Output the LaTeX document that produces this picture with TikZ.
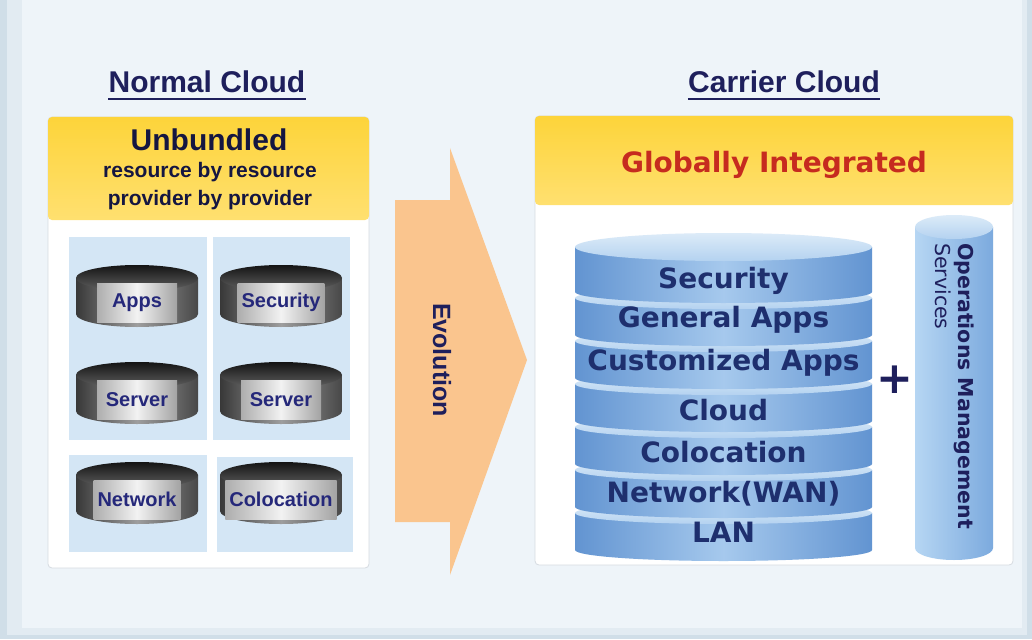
\documentclass[tikz,border=0pt]{standalone}
\usepackage{fontspec}
\setmainfont{Liberation Sans}
\newfontfamily\dejavu{DejaVu Sans}
\usetikzlibrary{positioning}

\definecolor{navy}{HTML}{1E1F5C}
\definecolor{labelnavy}{HTML}{25287A}
\definecolor{stacktext}{HTML}{1E2F6E}
\definecolor{frameblue}{HTML}{D0DEE8}
\definecolor{rimblue}{HTML}{E2EBF2}
\definecolor{paleblue}{HTML}{EEF4F9}
\definecolor{panelgray}{HTML}{D6DBE1}
\definecolor{blockblue}{HTML}{D4E6F5}
\definecolor{peach}{HTML}{FAC58E}
\definecolor{redtext}{HTML}{C62B1F}
\definecolor{headtop}{HTML}{FDD43A}
\definecolor{headbottom}{HTML}{FFE070}
\definecolor{layerside}{HTML}{6294D1}
\definecolor{layermid}{HTML}{A6C9ED}
\definecolor{facetop}{HTML}{DCEBF8}
\definecolor{facebottom}{HTML}{B4D2F0}
\definecolor{opsleft}{HTML}{B6D6F3}
\definecolor{opsmid}{HTML}{9CC4EC}
\definecolor{opsright}{HTML}{7CAADE}

\tikzset{
  title/.style={anchor=base, inner sep=0pt, text=navy, font=\bfseries\fontsize{30}{32}\selectfont},
  panel/.style={fill=white, draw=panelgray, line width=0.8pt, rounded corners=4pt},
  header/.style={top color=headtop, bottom color=headbottom, rounded corners=4pt},
  drumbody/.style={left color=black!78, right color=black!72, middle color=black!38},
  drumtop/.style={top color=black!92, bottom color=black!62},
  drumlabel/.style={left color=black!32, right color=black!36, middle color=black!5,
    minimum width=80pt, minimum height=39pt, inner sep=4pt, text=labelnavy,
    font=\bfseries\fontsize{20}{22}\selectfont},
  layerbody/.style={left color=layerside, right color=layerside, middle color=layermid},
  layertop/.style={top color=facetop, bottom color=facebottom},
  layertext/.style={anchor=base, inner sep=0pt, text=stacktext, font=\dejavu\bfseries\fontsize{28}{30}\selectfont},
}

\begin{document}
\begin{tikzpicture}[x=1pt, y=-1pt]
\useasboundingbox (0,0) rectangle (1032,639);

% backdrop frame
\fill[frameblue] (0,0) rectangle (1032,639);
\fill[rimblue] (7,-5) rectangle (1027,635);
\fill[paleblue] (22,-5) rectangle (1022,628);

% ---- normal cloud ----
\node[title] (normal) at (207,93) {Normal Cloud};
\draw[navy, line width=2.5pt] ([yshift=-6pt]normal.base west) -- ([yshift=-6pt]normal.base east);

\draw[panel] (48,117) rectangle (369,568);
\shade[header] (48,117) rectangle (369,220);
\node[anchor=base, inner sep=0pt, text=navy!70!black, font=\bfseries\fontsize{30}{32}\selectfont] (unbundled) at (209,151) {Unbundled};
\node[anchor=base, inner sep=0pt, text=navy!70!black, font=\bfseries\fontsize{21}{23}\selectfont] (byres) at (210,178) {resource by resource};
\node[anchor=base, inner sep=0pt, text=navy!70!black, font=\bfseries\fontsize{21}{23}\selectfont] (byprov) at (210,205) {provider by provider};

\fill[blockblue] (69,237) rectangle (207,440);
\fill[blockblue] (213,237) rectangle (350,440);
\fill[blockblue] (69,455) rectangle (207,552);
\fill[blockblue] (217,457) rectangle (353,552);

% separate resources
\foreach \cx/\ty/\lab/\nm in {137/265/Apps/apps, 281/265/Security/secu,
    137/362/Server/srva, 281/362/Server/srvb,
    137/462/Network/netw, 281/462/Colocation/colo}{
  \shade[drumbody] (\cx-61,\ty+13) -- (\cx-61,\ty+49)
    arc[start angle=180, end angle=0, x radius=61, y radius=13] -- (\cx+61,\ty+13) -- cycle;
  \shade[drumtop] (\cx,\ty+13) ellipse [x radius=61, y radius=13];
  \node[drumlabel] (\nm) at (\cx,\ty+37.5) {\lab};
}

% ---- evolution arrow ----
\fill[peach] (395,200) -- (450,200) -- (450,148) -- (527,360) -- (450,575)
  -- (450,522) -- (395,522) -- cycle;
\node[rotate=-90, text=navy, font=\bfseries\fontsize{25}{27}\selectfont] (evolution) at (442,360) {Evolution};

% ---- carrier cloud ----
\node[title] (carrier) at (784,93) {Carrier Cloud};
\draw[navy, line width=2.5pt] ([yshift=-6pt]carrier.base west) -- ([yshift=-6pt]carrier.base east);

\draw[panel] (535,116) rectangle (1013,565);
\shade[header] (535,116) rectangle (1013,205);
\node[anchor=base, inner sep=0pt, text=redtext, font=\dejavu\bfseries\fontsize{28}{30}\selectfont] (global) at (774,172) {Globally Integrated};

% stacked layers, bottom one first
\foreach \i in {6,5,...,0}{
  \pgfmathsetmacro\yb{292+43*\i}
  \pgfmathsetmacro\yt{ifthenelse(\i==0,247,\yb-37)}
  \pgfmathsetmacro\ry{ifthenelse(\i==0,14,11)}
  \shade[layerbody] (575,\yt) -- (575,\yb)
    arc[start angle=180, end angle=0, x radius=148.5, y radius=11] -- (872,\yt) -- cycle;
  \shade[layertop] (723.5,\yt) ellipse [x radius=148.5, y radius=\ry];
}
\foreach \by/\lab/\nm in {288/Security/lsec, 327/General Apps/lgen, 370/Customized Apps/lcust,
    420/Cloud/lcloud, 462/Colocation/lcolo, 502/Network(WAN)/lwan, 542/LAN/llan}
  \node[layertext] (\nm) at (723.5,\by) {\lab};

\node[text=navy, font=\dejavu\bfseries\fontsize{44}{44}\selectfont, inner sep=0pt] (plus) at (895,380) {+};

% operations column
\shade[left color=opsleft, middle color=opsmid, right color=opsright]
  (915,227) -- (915,548) arc[start angle=180, end angle=0, x radius=39, y radius=12] -- (993,227) -- cycle;
\shade[layertop] (954,227) ellipse [x radius=39, y radius=12];
\node[rotate=-90, anchor=north west, align=left, inner sep=0pt, text=navy,
  font=\dejavu\fontsize{20.5}{23}\selectfont] (ops) at (974,243)
  {\bfseries Operations Management\\Services};
\end{tikzpicture}
\end{document}
